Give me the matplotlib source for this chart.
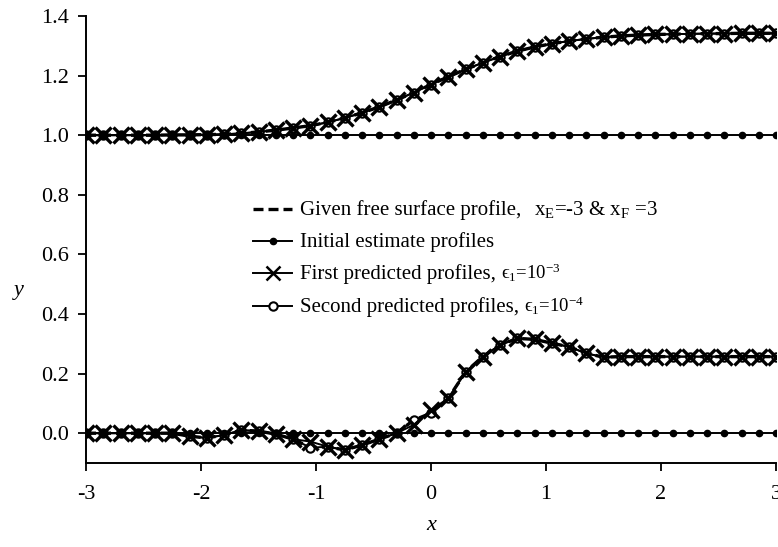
import numpy as np
import matplotlib
matplotlib.use("Agg")
import matplotlib.pyplot as plt
from matplotlib.lines import Line2D

plt.rcParams['font.family'] = ['Liberation Serif', 'DejaVu Serif']
plt.rcParams['mathtext.fontset'] = 'custom'
plt.rcParams['mathtext.rm'] = 'Liberation Serif'
plt.rcParams['mathtext.it'] = 'Liberation Serif:italic'
plt.rcParams['mathtext.bf'] = 'Liberation Serif:bold'
plt.rcParams['axes.unicode_minus'] = False

# ---- data ----
x = np.linspace(-3.0, 3.0, 41)

top_given = [1.000, 1.000, 1.000, 1.000, 1.000, 1.001, 1.001, 1.002, 1.003, 1.006,
             1.011, 1.017, 1.024, 1.032, 1.043, 1.058, 1.075, 1.095, 1.118, 1.143,
             1.170, 1.196, 1.221, 1.243, 1.264, 1.282, 1.296, 1.307, 1.316, 1.323,
             1.329, 1.333, 1.336, 1.338, 1.339, 1.340, 1.341, 1.341, 1.342, 1.342,
             1.342]
top_first = list(top_given)
top_second = list(top_given)

bot_given = [0.000, 0.000, 0.000, 0.000, 0.000, 0.000, -0.010, -0.016, -0.006, 0.010,
             0.007, -0.003, -0.020, -0.048, -0.046, -0.056, -0.040, -0.020, 0.000, 0.044,
             0.067, 0.117, 0.205, 0.257, 0.296, 0.318, 0.315, 0.302, 0.290, 0.268,
             0.255, 0.257, 0.257, 0.257, 0.257, 0.257, 0.257, 0.257, 0.257, 0.257,
             0.257]
bot_first = [0.000, 0.000, 0.000, 0.000, 0.000, 0.000, -0.010, -0.016, -0.006, 0.010,
             0.007, -0.003, -0.020, -0.028, -0.045, -0.056, -0.040, -0.020, 0.000, 0.028,
             0.078, 0.117, 0.205, 0.257, 0.296, 0.318, 0.315, 0.302, 0.290, 0.268,
             0.255, 0.257, 0.257, 0.257, 0.257, 0.257, 0.257, 0.257, 0.257, 0.257,
             0.257]
bot_second = list(bot_given)

init_top = np.full(41, 1.0)
init_bot = np.full(41, 0.0)

xticks = [-3, -2, -1, 0, 1, 2, 3]
yticks = [0.0, 0.2, 0.4, 0.6, 0.8, 1.0, 1.2, 1.4]

# ---- figure ----
fig = plt.figure(figsize=(7.78, 5.47), dpi=100)
ax = fig.add_axes([86/778, 84/547, 690/778, 447/547])

given_kw = dict(color='black', lw=2.4, ls=(0, (3, 1.5)))
second_kw = dict(color='black', lw=1.4, marker='o', ms=6, mfc='white', mew=1.5)
first_kw = dict(color='black', lw=1.4, marker='x', ms=11, mew=2.4)
init_kw = dict(color='black', lw=1.4, marker='o', ms=4.5)

for yg, yf, ys in [(top_given, top_first, top_second), (bot_given, bot_first, bot_second)]:
    ax.plot(x, yg, **given_kw)
    ax.plot(x, ys, **second_kw)
    ax.plot(x, yf, **first_kw)
ax.plot(x, init_top, **init_kw)
ax.plot(x, init_bot, **init_kw)

ax.set_xlim(-3, 3)
ax.set_ylim(-0.1, 1.4)
ax.set_xticks(xticks)
ax.set_xticklabels([str(t) for t in xticks])
ax.set_yticks(yticks)
ax.set_yticklabels([f"{t:.1f}" for t in yticks])
ax.tick_params(direction='out', length=6, width=1.3, labelsize=16, pad=6)
ax.tick_params(axis='x', pad=10)
for s in ['top', 'right']:
    ax.spines[s].set_visible(False)
for s in ['left', 'bottom']:
    ax.spines[s].set_linewidth(1.4)

ax.set_xlabel('x', fontsize=16, fontstyle='italic')
ax.xaxis.set_label_coords(0.5, -0.118)
ax.set_ylabel('y', fontsize=16, fontstyle='italic', rotation=0, va='center', ha='center')
ax.yaxis.set_label_coords(-0.098, 0.387)

# ---- legend (manual) ----
rows = [0.568, 0.497, 0.425, 0.351]
labels = ["Given free surface profile,", "Initial estimate profiles",
          "First predicted profiles,", "Second predicted profiles,"]
extras = [r"x$_\mathregular{E}$=-3 & x$_\mathregular{F}$ =3", None,
          "ϵ$_\\mathregular{1}$=10$^\\mathregular{-3}$",
          "ϵ$_\\mathregular{1}$=10$^\\mathregular{-4}$"]
extra_sizes = [15, None, 13.5, 13.5]
line_kws = [dict(lw=2.4, ls=(0, (3, 1.5))), dict(lw=1.4), dict(lw=1.4), dict(lw=1.4)]
mark_kws = [None,
            dict(marker='o', ms=4.5, mfc='black', mew=1.0),
            dict(marker='x', ms=10, mfc='black', mew=1.8),
            dict(marker='o', ms=6, mfc='white', mew=1.5)]
hx0, hx1 = 0.242, 0.299
off = 6/447
texts = []
for ry, lab, lk, mk in zip(rows, labels, line_kws, mark_kws):
    ax.add_line(Line2D([hx0, hx1], [ry, ry], transform=ax.transAxes, color='black', **lk))
    if mk is not None:
        ax.add_line(Line2D([(hx0 + hx1) / 2], [ry], transform=ax.transAxes, ls='none',
                           color='black', mec='black', **mk))
    t = ax.text(0.310, ry - off, lab, transform=ax.transAxes, fontsize=15,
                va='baseline', ha='left')
    texts.append(t)

fig.canvas.draw()
inv = ax.transAxes.inverted()
gaps = [13, 0, 5, 5]
for t, ex, es, ry, g in zip(texts, extras, extra_sizes, rows, gaps):
    if ex is None:
        continue
    bb = t.get_window_extent()
    xa = inv.transform((bb.x1 + g, 0))[0]
    ax.text(xa, ry - off, ex, transform=ax.transAxes, fontsize=es, va='baseline', ha='left')

fig.savefig('out.png', dpi=100)
